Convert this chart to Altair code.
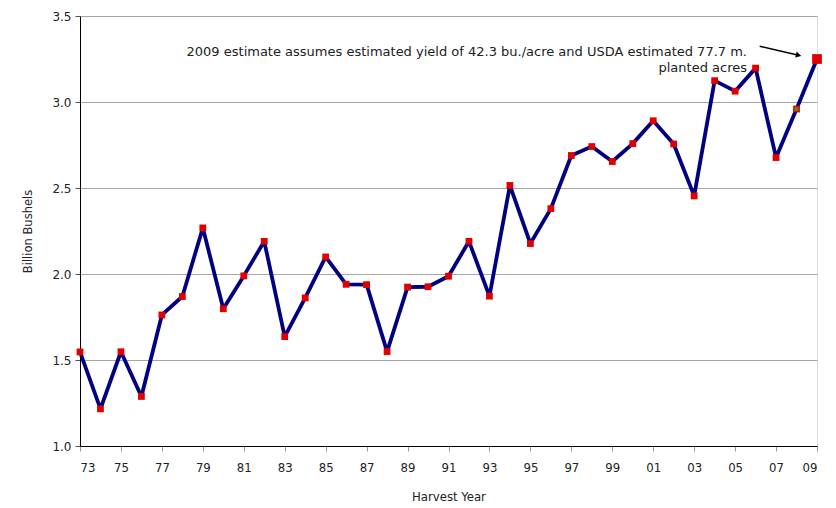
import altair as alt
import pandas as pd

# U.S. soybean production, billion bushels, by harvest year
years = list(range(1973, 2010))
production = [1.547, 1.216, 1.548, 1.288, 1.762, 1.869, 2.268, 1.798, 1.989, 2.190,
              1.636, 1.861, 2.099, 1.940, 1.938, 1.549, 1.924, 1.926, 1.987, 2.190,
              1.871, 2.515, 2.177, 2.380, 2.689, 2.741, 2.654, 2.758, 2.891, 2.756,
              2.454, 3.124, 3.063, 3.197, 2.677, 2.959, 3.250]

note_lines = ["2009 estimate assumes estimated yield of 42.3 bu./acre and USDA estimated 77.7 m.",
              "planted acres"]
note_x = [2005.58, 2005.58]
note_y = [3.288, 3.200]

arrow_x = [2006.2, 2008.1]
arrow_y = [3.324, 3.272]

tick_years = list(range(1973, 2010, 2))

df = pd.DataFrame({"year": years, "prod": production})
body = df[df.year < 2009]
last = df[df.year == 2009]
est08 = df[df.year == 2008]
notes = pd.DataFrame({"x": note_x, "y": note_y, "t": note_lines})
arrow = pd.DataFrame({"x": [arrow_x[0]], "y": [arrow_y[0]], "x2": [arrow_x[1]], "y2": [arrow_y[1]]})
head = pd.DataFrame({"x": [arrow_x[1]], "y": [arrow_y[1]]})

font = "DejaVu Sans"
narrow = "DejaVu Sans Condensed"

x_enc = alt.X("year:Q",
              scale=alt.Scale(domain=[1973, 2009], nice=False, zero=False),
              axis=alt.Axis(values=tick_years, labelExpr="substring(toString(datum.value), 2)",
                            title="Harvest Year", grid=False, domainColor="black",
                            tickColor="#999999", tickSize=5, labelFont=narrow,
                            labelFontSize=13, labelColor="#222222", labelPadding=10,
                            titleFont=narrow, titleFontSize=13, titleFontWeight="normal",
                            titleColor="#222222", titlePadding=16))
y_enc = alt.Y("prod:Q",
              scale=alt.Scale(domain=[1.0, 3.5], nice=False, zero=False),
              axis=alt.Axis(values=[1.0, 1.5, 2.0, 2.5, 3.0, 3.5], format=".1f",
                            title="Billion Bushels", gridColor="#a6a6a6",
                            domainColor="black", tickColor="#555555", tickSize=5,
                            labelFont=font, labelFontSize=12, labelColor="#222222",
                            labelPadding=4, titleFont=font, titleFontSize=11.5,
                            titleFontWeight="normal", titleColor="#222222",
                            titlePadding=18))

line = alt.Chart(df).mark_line(color="#000080", strokeWidth=3.8, strokeJoin="round").encode(
    x=x_enc, y=y_enc)

points = alt.Chart(body).mark_point(shape="square", filled=True, color="#e00000",
                                    size=46, opacity=1).encode(x="year:Q", y="prod:Q")

big = alt.Chart(last).mark_point(shape="square", filled=True, color="#e00000",
                                 size=95, opacity=1).encode(x="year:Q", y="prod:Q")

cross = alt.Chart(est08).mark_point(shape="cross", angle=45, filled=True, color="#3a9a2a",
                                    size=22, opacity=1).encode(x="year:Q", y="prod:Q")

text = alt.Chart(notes).mark_text(align="right", baseline="middle", font=font,
                                  fontSize=13, color="#222222").encode(
    x="x:Q", y="y:Q", text="t:N")

shaft = alt.Chart(arrow).mark_rule(color="black", strokeWidth=1.5).encode(
    x="x:Q", y="y:Q", x2="x2:Q", y2="y2:Q")

tip = alt.Chart(head).mark_point(shape="triangle-right", angle=14, filled=True,
                                 color="black", size=40, opacity=1).encode(x="x:Q", y="y:Q")

chart = alt.layer(line, points, cross, big, shaft, tip, text).properties(
    width=737, height=430,
    autosize=alt.AutoSizeParams(type="none"),
    padding={"left": 80, "top": 16, "right": 19, "bottom": 62},
).configure_view(stroke="black", strokeWidth=1.2).configure(background="white")

chart.save("out.html", embed_options={"renderer": "svg", "actions": False})
